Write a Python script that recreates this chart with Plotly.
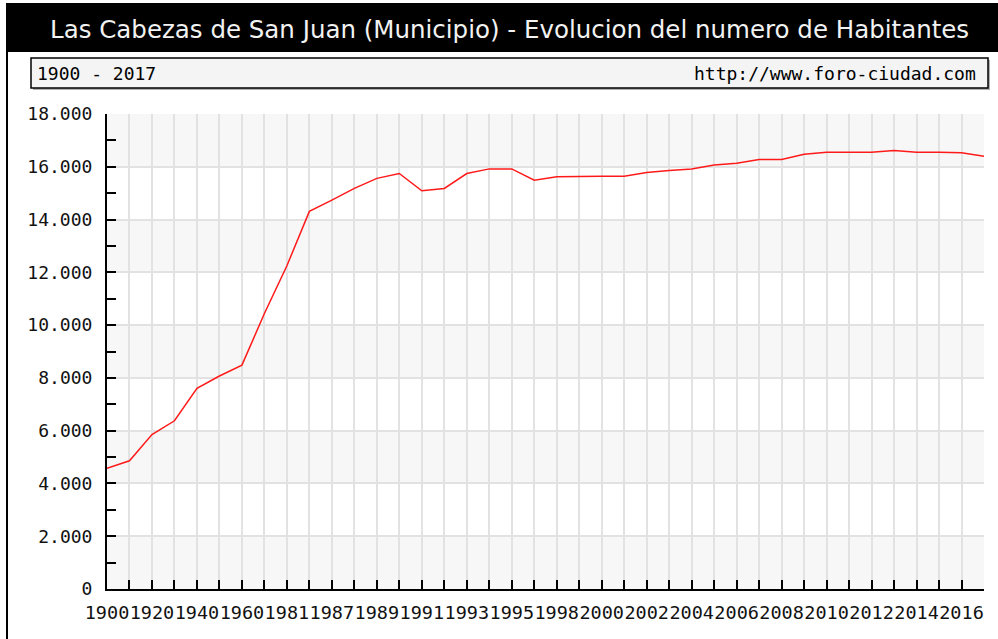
import plotly.graph_objects as go

years = ["1900", "1910", "1920", "1930", "1940", "1950", "1960", "1970", "1981", "1986",
         "1987", "1988", "1989", "1990", "1991", "1992", "1993", "1994", "1995", "1996",
         "1998", "1999", "2000", "2001", "2002", "2003", "2004", "2005", "2006", "2007",
         "2008", "2009", "2010", "2011", "2012", "2013", "2014", "2015", "2016", "2017"]
habitantes = [4570, 4860, 5850, 6375, 7600, 8070, 8485, 10440, 12250, 14310,
              14735, 15180, 15560, 15745, 15090, 15180, 15745, 15920, 15920, 15490,
              15620, 15645, 15645, 15645, 15780, 15860, 15920, 16070, 16135, 16275,
              16275, 16475, 16550, 16550, 16550, 16615, 16550, 16550, 16530, 16400]
tick_labels = [y if i % 2 == 0 else "" for i, y in enumerate(years)]

title_text = "Las Cabezas de San Juan (Municipio) - Evolucion del numero de Habitantes"
period_text = "1900 - 2017"
source_text = "http://www.foro-ciudad.com"

W, H = 998, 639
L, R, T, B = 107, 984, 114, 589
MONO = "DejaVu Sans Mono"


def px(x):
    return (x - L) / (R - L)


def py(y):
    return (B - y) / (B - T)


fig = go.Figure()
fig.add_trace(go.Scatter(x=years, y=habitantes, mode="lines",
                         line=dict(color="#ff1a1a", width=1.5), hoverinfo="x+y"))

shapes = []
# alternating bands
for lo in range(0, 18000, 4000):
    shapes.append(dict(type="rect", xref="paper", yref="y", x0=0, x1=1, y0=lo, y1=lo + 2000,
                       fillcolor="#f7f7f7", line=dict(width=0), layer="below"))
# title band
shapes.append(dict(type="rect", xref="paper", yref="paper", x0=px(6), x1=px(1000), y0=py(3), y1=py(52),
                   fillcolor="black", line=dict(width=0), layer="above"))
# left border
shapes.append(dict(type="line", xref="paper", yref="paper", x0=px(7), x1=px(7), y0=py(52), y1=py(640),
                   line=dict(color="black", width=2)))
# subtitle box shadow
shapes.append(dict(type="rect", xref="paper", yref="paper", x0=px(33), x1=px(990), y0=py(60), y1=py(90),
                   fillcolor="#b0b0b0", line=dict(width=0)))
# subtitle box
shapes.append(dict(type="rect", xref="paper", yref="paper", x0=px(31), x1=px(988), y0=py(58), y1=py(88),
                   fillcolor="#f4f4f4", line=dict(color="black", width=1.5)))

annotations = [
    dict(text=title_text, xref="paper", yref="paper", x=px(509), y=py(29), xanchor="center", yanchor="middle",
         showarrow=False, font=dict(family="DejaVu Sans", size=24.5, color="#f2f2f2")),
    dict(text=period_text, xref="paper", yref="paper", x=px(35), y=py(73), xanchor="left", yanchor="middle",
         showarrow=False, font=dict(family=MONO, size=18, color="black")),
    dict(text=source_text, xref="paper", yref="paper", x=px(978), y=py(73), xanchor="right", yanchor="middle",
         showarrow=False, font=dict(family=MONO, size=18, color="black")),
]

fig.update_layout(
    width=W, height=H,
    margin=dict(l=L, r=W - R, t=T, b=H - B, pad=0),
    paper_bgcolor="white", plot_bgcolor="white",
    showlegend=False,
    separators=",.",
    shapes=shapes,
    annotations=annotations,
    font=dict(family=MONO, color="black"),
)
fig.update_xaxes(
    type="category", range=[0, len(years) - 1],
    tickmode="array", tickvals=years, ticktext=tick_labels, tickangle=0,
    ticks="inside", ticklen=9, tickwidth=1.5, tickcolor="black",
    showgrid=True, gridcolor="#e2e2e2", gridwidth=1.5,
    showline=True, linecolor="black", linewidth=2,
    tickfont=dict(family=MONO, size=18.5, color="#111111"),
    ticklabelstandoff=6,
    zeroline=False, fixedrange=True,
)
fig.update_yaxes(
    range=[0, 18000], tickmode="linear", tick0=0, dtick=2000, tickformat=",d",
    ticks="inside", ticklen=9, tickwidth=1.5, tickcolor="black",
    minor=dict(dtick=1000, ticks="inside", ticklen=9, tickwidth=1.5, tickcolor="black", showgrid=False),
    showgrid=True, gridcolor="#e2e2e2", gridwidth=1.5,
    showline=True, linecolor="black", linewidth=2,
    tickfont=dict(family=MONO, size=18, color="#111111"),
    ticklabelstandoff=9,
    zeroline=False, fixedrange=True,
)

fig.write_html("out.html", config={"displayModeBar": False},
               post_script="document.body.style.margin='0px';")
